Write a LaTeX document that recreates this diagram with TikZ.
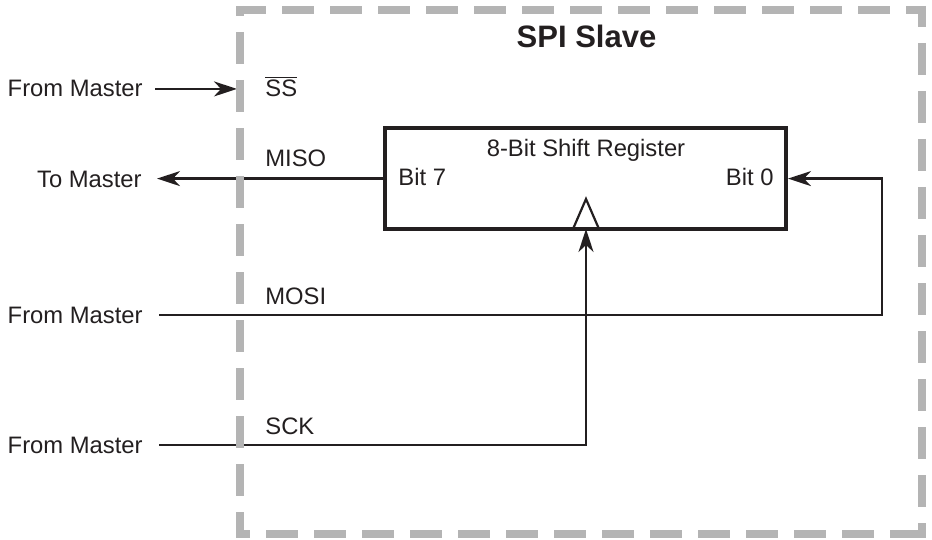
\documentclass[tikz,border=0pt]{standalone}
\usepackage{fontspec}
\setmainfont{Liberation Sans}
\usetikzlibrary{arrows.meta}
\definecolor{ink}{HTML}{231F20}
\definecolor{boxgray}{RGB}{180,180,180}
\tikzset{
  lbl/.style={inner sep=0pt, text=ink, font=\fontsize{11.9}{14}\selectfont},
  title/.style={inner sep=0pt, text=ink, font=\fontsize{15.5}{18}\selectfont\bfseries},
  wire/.style={draw=ink, line width=1.1pt},
  arr/.style={wire, -{Stealth[length=11.5pt,width=7.5pt,inset=3.5pt]}},
  regbox/.style={draw=ink, line width=2pt, minimum width=200.5pt, minimum height=50.3pt, inner sep=0pt},
  dashbox/.style={draw=boxgray, line width=4pt, line cap=butt, dash pattern=on 16pt off 8pt}
}
\begin{document}
\begin{tikzpicture}[x=0.5pt,y=-0.5pt]
\useasboundingbox (0,0) rectangle (932,540);
% register
\node[regbox] (reg) at (585.5,178.6) {};
\node[lbl, anchor=base] (regt) at (586,156) {8-Bit Shift Register};
\node[lbl, anchor=base west] (b7) at (398,185) {Bit 7};
\node[lbl, anchor=base east] (b0) at (774,185) {Bit 0};
\coordinate (clk) at (586,229);
\draw[wire] (573,229) -- (clk |- 0,199) -- (599,229);
% title
\node[title, anchor=base] (spi) at (586.5,48) {SPI Slave};
% outside labels
\node[lbl, anchor=base east] (fm1) at (143,97) {From Master};
\node[lbl, anchor=base east] (tm) at (142,187) {To Master};
\node[lbl, anchor=base east] (fm2) at (143,323) {From Master};
\node[lbl, anchor=base east] (fm3) at (143,453) {From Master};
% signal labels
\node[lbl, anchor=base west] (ss) at (265,97) {$\overline{\hbox{SS}}$};
\node[lbl, anchor=base west] (miso) at (265,167) {MISO};
\node[lbl, anchor=base west] (mosi) at (265,304) {MOSI};
\node[lbl, anchor=base west] (sck) at (265,434) {SCK};
% connectors
\coordinate (ssend) at (237,88);
\coordinate (mosiR) at (882,314);
\draw[arr] ([xshift=6pt]fm1.east) -- (ssend |- fm1.east);
\draw[arr] (reg.west) -- ([xshift=7.5pt]tm.east |- reg.west);
\draw[arr] ([xshift=8pt]fm2.east) -| (mosiR |- reg.east) -- (reg.east);
\draw[arr] ([xshift=8pt]fm3.east) -| (clk);
% dashed boundary
\draw[dashbox, dash phase=1pt] (236,10) -- (926,10);
\draw[dashbox, dash phase=5.5pt] (922,6) -- (922,538);
\draw[dashbox, dash phase=9pt] (236,534) -- (926,534);
\draw[dashbox, dash phase=11pt] (240,6) -- (240,538);
\end{tikzpicture}
\end{document}
